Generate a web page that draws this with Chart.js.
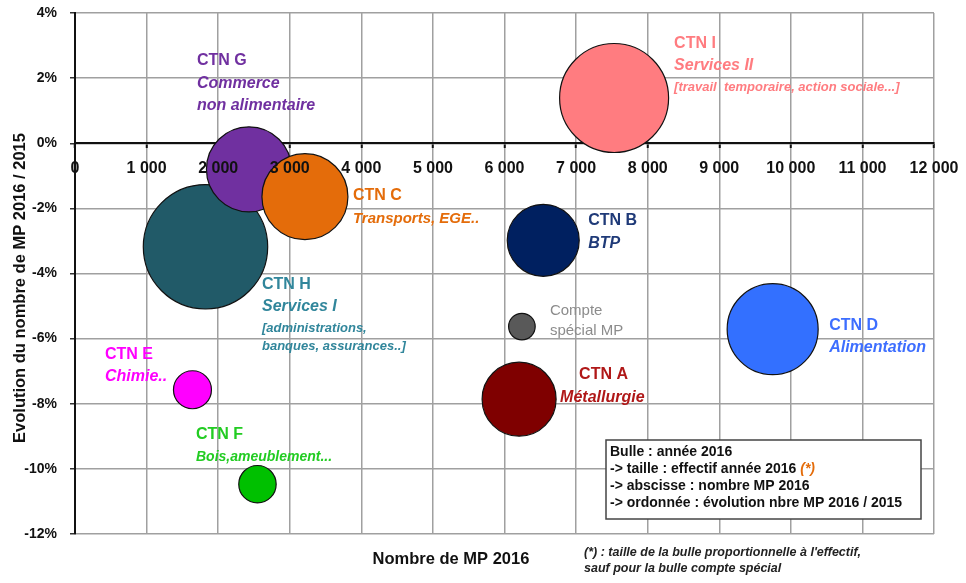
<!DOCTYPE html>
<html><head><meta charset="utf-8">
<script src="https://cdn.jsdelivr.net/npm/chart.js@4.4.1/dist/chart.umd.min.js"></script>
<style>html,body{margin:0;padding:0;background:#fff;} canvas{display:block;}</style>
</head><body>
<canvas id="c" width="966" height="583"></canvas>
<script>
// ---- data ----
const categories   = ['CTN A', 'CTN B', 'CTN D', 'CTN E', 'CTN F', 'CTN H', 'CTN G', 'CTN C', 'CTN I', 'Compte spécial MP'];
const mpCount2016  = [6204, 6541, 9746, 1641, 2549, 1823, 2430, 3212, 7531, 6243];
const evolutionPct = [-7.86, -2.98, -5.71, -7.57, -10.47, -3.18, -0.80, -1.64, 1.39, -5.63];
const bubbleSize   = [37, 36, 45.5, 19, 18.7, 62.2, 42.5, 43, 54.5, 13.3];
const xTickLabels  = ['0', '1 000', '2 000', '3 000', '4 000', '5 000', '6 000', '7 000', '8 000', '9 000', '10 000', '11 000', '12 000'];
const yTickLabels  = ['-12%', '-10%', '-8%', '-6%', '-4%', '-2%', '0%', '2%', '4%'];
const labelTexts = [
  ['CTN A', 'Métallurgie'],
  ['CTN B', 'BTP'],
  ['CTN D', 'Alimentation'],
  ['CTN E', 'Chimie..'],
  ['CTN F', 'Bois,ameublement...'],
  ['CTN H', 'Services I', '[administrations,', 'banques, assurances..]'],
  ['CTN G', 'Commerce', 'non alimentaire'],
  ['CTN C', 'Transports, EGE..'],
  ['CTN I', 'Services II', '[travail  temporaire, action sociale...]'],
  ['Compte', 'spécial MP']
];
const legendLines = ['Bulle : année 2016', '-> taille : effectif année 2016 ', '-> abscisse : nombre MP 2016', '-> ordonnée : évolution nbre MP 2016 / 2015'];
const footnoteLines = ["(*) : taille de la bulle proportionnelle à l'effectif,", 'sauf pour la bulle compte spécial'];
const xTitle = 'Nombre de MP 2016';
const yTitle = 'Evolution du nombre de MP 2016 / 2015';

// ---- styles ----
const fillColors = ['#7F0000', '#002060', '#3370FF', '#FF00FF', '#00C000', '#215A68', '#7030A0', '#E46C0A', '#FF7C80', '#595959'];
const textColors = ['#B01818', '#1F3A78', '#3D6EFF', '#FF00FF', '#22CC22', '#31869B', '#7030A0', '#E46C0A', '#FF7C80', '#8C8C8C'];
const FONT = '"Liberation Sans", Arial, sans-serif';
const fonts = {
  name: 'bold 16px ' + FONT,
  sub: 'italic bold 16px ' + FONT,
  subS: 'italic bold 15px ' + FONT,
  subF: 'italic bold 14px ' + FONT,
  small: 'italic bold 13px ' + FONT,
  grey: '15px ' + FONT
};
// per label: [font, dx, dy] offsets from bubble centre (pixels)
const labelLayout = [
  [['name', 60, -25], ['sub', 41, -2]],
  [['name', 45, -19.5], ['sub', 45, 3]],
  [['name', 56.5, -4], ['sub', 56.5, 18]],
  [['name', -87.5, -35], ['sub', -87.5, -13]],
  [['name', -61.5, -50], ['subF', -61.5, -27.5]],
  [['name', 56.5, 38], ['sub', 56.5, 60], ['small', 56.5, 82], ['small', 56.5, 100]],
  [['name', -52, -108.5], ['sub', -52, -85.5], ['sub', -52, -63.5]],
  [['name', 48, -1], ['subS', 48, 22]],
  [['name', 60, -54], ['sub', 60, -32], ['small', 60, -10.5]],
  [['grey', 28, -16], ['grey', 28, 4]]
];

const annotate = {
  id: 'annotate',
  afterDraw(chart) {
    const ctx = chart.ctx, xs = chart.scales.x, ys = chart.scales.y;
    ctx.save();
    ctx.textBaseline = 'middle';
    ctx.textAlign = 'left';
    categories.forEach((cat, i) => {
      const cx = xs.getPixelForValue(mpCount2016[i]);
      const cy = ys.getPixelForValue(evolutionPct[i]);
      ctx.fillStyle = textColors[i];
      labelLayout[i].forEach((l, j) => {
        ctx.font = fonts[l[0]];
        ctx.fillText(labelTexts[i][j], cx + l[1], cy + l[2]);
      });
    });
    // legend box
    ctx.fillStyle = '#fff';
    ctx.fillRect(606, 440, 315, 79);
    ctx.strokeStyle = '#444';
    ctx.lineWidth = 1.5;
    ctx.strokeRect(606, 440, 315, 79);
    legendLines.forEach((t, k) => {
      ctx.fillStyle = '#111';
      ctx.font = 'bold 14px ' + FONT;
      ctx.fillText(t, 610, 452 + k * 17.2);
      if (k === 1) {
        const w = ctx.measureText(t).width;
        ctx.font = 'italic bold 14px ' + FONT;
        ctx.fillStyle = '#E46C0A';
        ctx.fillText('(*)', 610 + w, 452 + k * 17.2);
      }
    });
    // footnote
    ctx.fillStyle = '#222';
    ctx.font = 'italic bold 12.5px ' + FONT;
    footnoteLines.forEach((t, k) => ctx.fillText(t, 584, 553 + k * 16));
    // axis titles
    ctx.fillStyle = '#111';
    ctx.font = 'bold 16.5px ' + FONT;
    ctx.textAlign = 'center';
    ctx.fillText(xTitle, 451, 559);
    ctx.translate(20, 288);
    ctx.rotate(-Math.PI / 2);
    ctx.fillText(yTitle, 0, 0);
    ctx.restore();
  }
};

function zeroPad(s) { s.paddingLeft = 0; s.paddingRight = 0; s.paddingTop = 0; s.paddingBottom = 0; }

new Chart(document.getElementById('c'), {
  type: 'bubble',
  data: {
    labels: categories,
    datasets: [{
      data: categories.map((c, i) => ({ x: mpCount2016[i], y: evolutionPct[i], r: bubbleSize[i] })),
      backgroundColor: fillColors,
      borderColor: '#111',
      borderWidth: 1.2,
      hoverRadius: 0,
      clip: false
    }]
  },
  options: {
    responsive: false,
    animation: false,
    devicePixelRatio: 1,
    events: [],
    layout: { autoPadding: false, padding: { left: 0, top: 13, right: 32, bottom: 49 } },
    plugins: { legend: { display: false }, tooltip: { enabled: false } },
    scales: {
      x: {
        type: 'linear',
        position: { y: 0 },
        min: 0, max: 12000,
        afterFit: s => { s.height = 0; zeroPad(s); },
        grid: { color: '#A0A0A0', lineWidth: 1.5, tickLength: 4, tickColor: '#111', tickWidth: 2, drawTicks: true },
        border: { color: '#111', width: 2 },
        ticks: {
          stepSize: 1000, padding: 12, z: 1, color: '#111', maxRotation: 0, autoSkip: false,
          font: { family: FONT, weight: 'bold', size: 16 },
          callback: (v, i) => xTickLabels[i]
        }
      },
      y: {
        type: 'linear',
        position: 'left',
        min: -12, max: 4,
        afterFit: s => { s.width = 75; zeroPad(s); },
        grid: { color: '#A0A0A0', lineWidth: 1.5, tickLength: 5, tickColor: '#333' },
        border: { color: '#111', width: 2 },
        ticks: {
          stepSize: 2, padding: 13, color: '#111',
          font: { family: FONT, weight: 'bold', size: 14 },
          callback: (v, i) => yTickLabels[i]
        }
      }
    }
  },
  plugins: [annotate]
});
</script>
</body></html>
